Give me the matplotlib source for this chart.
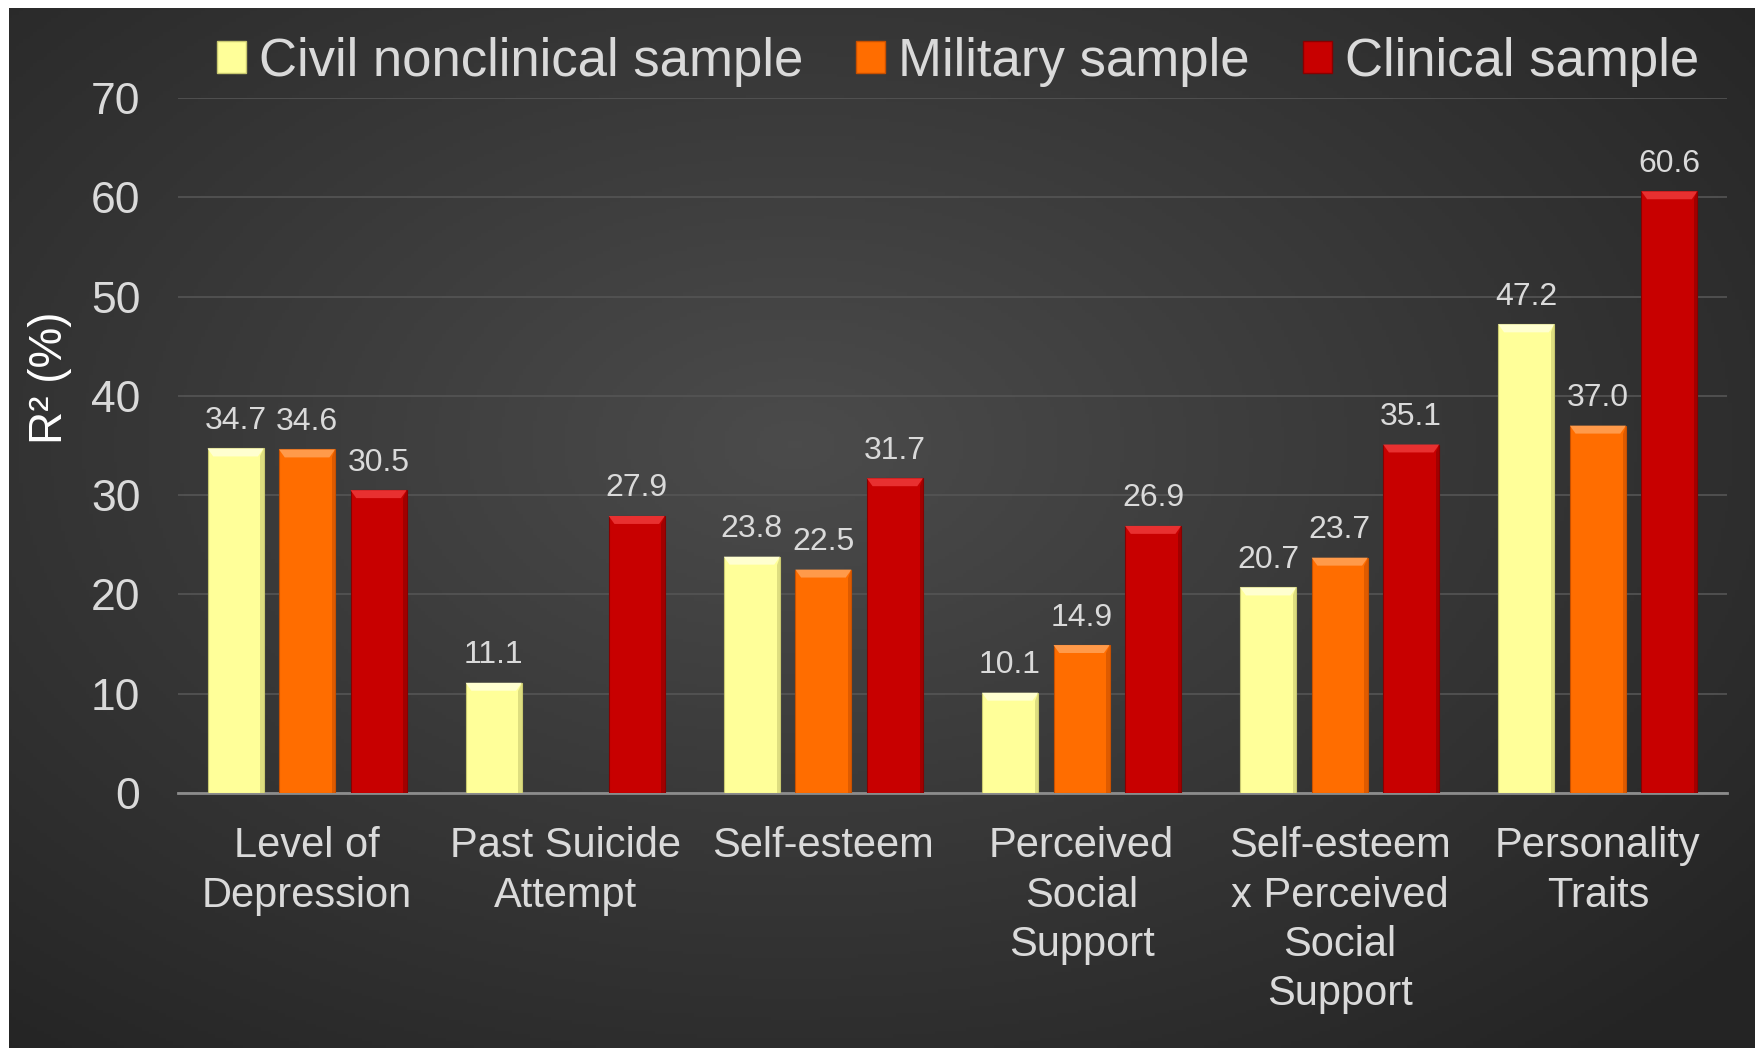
import numpy as np
import matplotlib
matplotlib.use("Agg")
from matplotlib import pyplot as plt
from matplotlib.patches import Polygon, Rectangle

plt.rcParams['font.family'] = ['Liberation Sans', 'DejaVu Sans']

categories = ["Level of\nDepression", "Past Suicide\nAttempt", "Self-esteem",
              "Perceived\nSocial\nSupport", "Self-esteem\nx Perceived\nSocial\nSupport",
              "Personality\nTraits"]
series_names = ["Civil nonclinical sample", "Military sample", "Clinical sample"]
civil = [34.7, 11.1, 23.8, 10.1, 20.7, 47.2]
military = [34.6, np.nan, 22.5, 14.9, 23.7, 37.0]
clinical = [30.5, 27.9, 31.7, 26.9, 35.1, 60.6]
yticks = [0, 10, 20, 30, 40, 50, 60, 70]

colors = ["#FFFF99", "#FF6D00", "#C80000"]
light = ["#FFFFD0", "#FF9A4A", "#E83030"]
dark = ["#C8C870", "#C85000", "#880000"]
text_col = "#DADADA"

W, H = 1756, 1048
fig = plt.figure(figsize=(W / 100, H / 100), dpi=100)
fig.patch.set_facecolor("white")

# dark radial-gradient panel
bg = fig.add_axes([9 / W, 0, 1 - 9 / W, 1 - 8 / H])
yy, xx = np.mgrid[0:1:300j, 0:1:500j]
r = np.sqrt(((xx - 0.45) / 0.75) ** 2 + ((yy - 0.42) / 0.8) ** 2)
shade = np.clip(0.295 - 0.16 * r, 0.145, 0.295)
bg.imshow(np.dstack([shade] * 3), aspect="auto", extent=[0, 1, 0, 1], origin="upper")
bg.set_axis_off()

ax = fig.add_axes([178 / W, 1 - 793 / H, (1727 - 178) / W, (793 - 98) / H])
ax.set_facecolor("none")
ax.set_zorder(2)

x = np.arange(len(categories))
width = 0.217
pitch = 0.277
series = [civil, military, clinical]
dx, dy = 0.022, 0.8
for i, vals in enumerate(series):
    xs = x + (i - 1) * pitch
    for xc, v in zip(xs, vals):
        if np.isnan(v):
            continue
        l, rr = xc - width / 2, xc + width / 2
        ax.add_patch(Rectangle((l, 0), width, v, facecolor=colors[i],
                               edgecolor=dark[i], linewidth=0.8, zorder=3))
        # bevel: top highlight and right shadow
        ax.add_patch(Polygon([(l, v), (rr, v), (rr - dx, v - dy), (l + dx, v - dy)],
                             closed=True, facecolor=light[i], edgecolor="none", zorder=4))
        ax.add_patch(Polygon([(rr, v), (rr, 0), (rr - dx * 0.6, 0), (rr - dx * 0.6, v - dy)],
                             closed=True, facecolor=dark[i], edgecolor="none", alpha=0.6, zorder=4))
        ax.annotate(f"{v:.1f}", (xc, v), xytext=(0, 9), textcoords="offset points",
                    ha="center", va="bottom", fontsize=23, color=text_col, zorder=5)

ax.set_xlim(-0.5, len(categories) - 0.5)
ax.set_ylim(0, 70)
ax.set_yticks(yticks)
ax.set_xticks(x)
ax.set_xticklabels(categories, fontsize=30, color=text_col, linespacing=1.3)
ax.tick_params(axis="y", length=0, pad=27, labelsize=32, labelcolor=text_col)
ax.tick_params(axis="x", length=0, pad=24)
ax.yaxis.grid(True, color="#555555", linewidth=1.2, zorder=0)
ax.set_axisbelow(True)
for s in ["top", "right", "left"]:
    ax.spines[s].set_visible(False)
ax.spines["bottom"].set_color("#8C8C8C")
ax.spines["bottom"].set_linewidth(2)

fig.text(50 / W, 1 - 378 / H, "R² (%)", rotation=90, ha="center", va="center",
         fontsize=33, color="white")

handles = [Rectangle((0, 0), 1, 1, facecolor=colors[i], edgecolor=dark[i], linewidth=1)
           for i in range(3)]
leg = fig.legend(handles, series_names, loc="center", bbox_to_anchor=(958 / W, 1 - 62 / H),
                 ncol=3, frameon=False, fontsize=38, handlelength=0.55, handleheight=0.55,
                 handletextpad=0.25, columnspacing=1.0)
for t in leg.get_texts():
    t.set_color(text_col)

fig.savefig("out.png", dpi=100, facecolor=fig.get_facecolor())
